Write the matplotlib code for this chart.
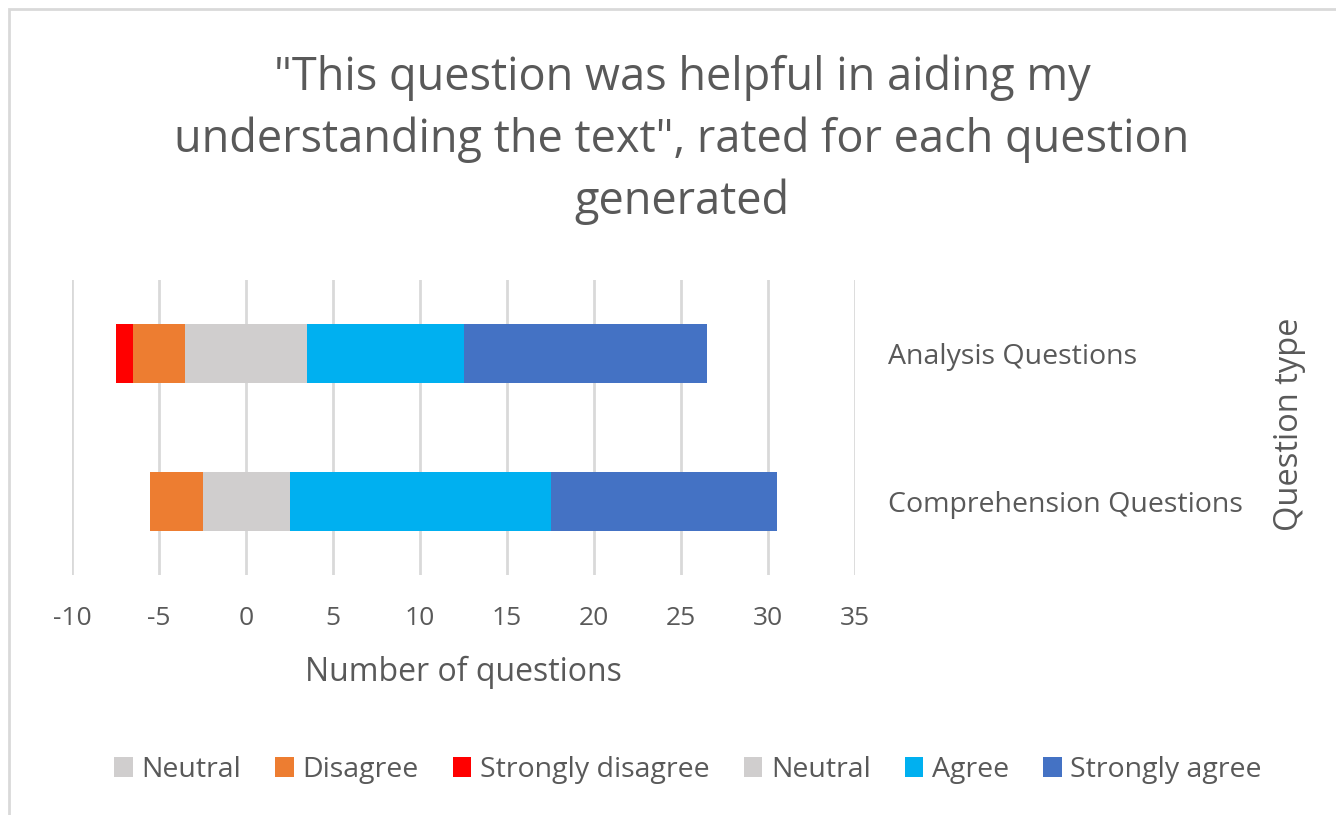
import numpy as np
import matplotlib.pyplot as plt
from matplotlib.patches import Rectangle

plt.rcParams['font.family'] = ['Open Sans', 'DejaVu Sans']

categories = ['Comprehension Questions', 'Analysis Questions']
strongly_disagree = [0, 1]
disagree = [3, 3]
neutral = [5, 7]
agree = [15, 9]
strongly_agree = [13, 14]

x_ticks = [-10, -5, 0, 5, 10, 15, 20, 25, 30, 35]

c_neutral = '#d0cece'
c_disagree = '#ed7d31'
c_sdisagree = '#ff0000'
c_agree = '#00b0f0'
c_sagree = '#4472c4'
text_col = '#595959'

fig = plt.figure(figsize=(13.36, 8.15), dpi=100)
ax = fig.add_axes([72 / 1336, 1 - 575 / 815, (855 - 72) / 1336, 295 / 815])

y = np.arange(len(categories))
half = np.array(neutral) / 2.0
dis = np.array(disagree)
sd = np.array(strongly_disagree)
ag = np.array(agree)
sa = np.array(strongly_agree)
h = 0.4

# negative side, stacked out from zero
b1 = ax.barh(y, -half, height=h, color=c_neutral, label='Neutral')
b2 = ax.barh(y, -dis, left=-half, height=h, color=c_disagree, label='Disagree')
b3 = ax.barh(y, -sd, left=-half - dis, height=h, color=c_sdisagree, label='Strongly disagree')
# positive side
b4 = ax.barh(y, half, height=h, color=c_neutral, label='Neutral')
b5 = ax.barh(y, ag, left=half, height=h, color=c_agree, label='Agree')
b6 = ax.barh(y, sa, left=half + ag, height=h, color=c_sagree, label='Strongly agree')

ax.set_xlim(-10, 35)
ax.set_ylim(-0.5, 1.5)
ax.set_xticks(x_ticks)
ax.set_xticklabels([str(t) for t in x_ticks])
ax.grid(axis='x', color='#d9d9d9', linewidth=2)
ax.set_axisbelow(True)
for s in ax.spines.values():
    s.set_visible(False)

ax.yaxis.tick_right()
ax.yaxis.set_label_position('right')
ax.set_yticks(y)
ax.set_yticklabels(categories, ha='left')
ax.tick_params(axis='y', length=0, pad=24, labelsize=20.5, labelcolor=text_col)
ax.tick_params(axis='x', length=0, pad=22, labelsize=19, labelcolor=text_col)

ax.set_xlabel('Number of questions', fontsize=23, color=text_col, labelpad=18)
fig.text(1290 / 1336, 1 - 424 / 815, 'Question type', rotation=90, fontsize=23.5,
         color=text_col, ha='center', va='center')

fig.text(682 / 1336, 1 - 140 / 815,
         '"This question was helpful in aiding my\nunderstanding the text", rated for each question\ngenerated',
         fontsize=32.5, color=text_col, ha='center', va='center', linespacing=1.44)

fig.legend(handles=[b1, b2, b3, b4, b5, b6], loc='center', bbox_to_anchor=(688 / 1336, 1 - 770 / 815),
           ncol=6, frameon=False, fontsize=20.5, labelcolor=text_col, handlelength=0.65,
           handleheight=0.65, handletextpad=0.3, columnspacing=1.2)

fig.patches.append(Rectangle((9 / 1336, -0.1), 1.2, 1 - 9 / 815 + 0.1, transform=fig.transFigure,
                             fill=False, edgecolor='#d9d9d9', linewidth=2))

fig.savefig('out.png', dpi=100)
